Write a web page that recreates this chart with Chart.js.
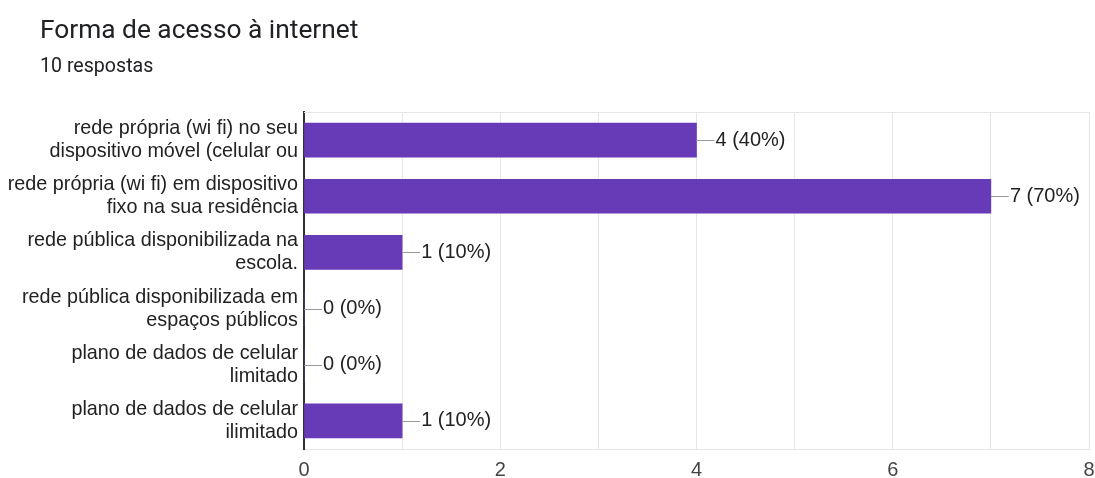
<!DOCTYPE html>
<html>
<head>
<meta charset="utf-8">
<script src="https://cdn.jsdelivr.net/npm/chart.js@4/dist/chart.umd.min.js"></script>
<style>
  html, body { margin: 0; padding: 0; background: #fff; }
  #wrap { position: relative; width: 1095px; height: 478px; overflow: hidden; }
  #title { position: absolute; left: 40px; top: 16px; font-family: Roboto, sans-serif; font-size: 26.3px; line-height: 26px; color: #202124; white-space: nowrap; }
  #subtitle { position: absolute; left: 40px; top: 56px; font-family: Roboto, sans-serif; font-size: 19.6px; line-height: 19.5px; color: #202124; white-space: nowrap; }
  canvas { position: absolute; left: 0; top: 0; }
</style>
</head>
<body>
<div id="wrap">
  <canvas id="c" width="1095" height="478"></canvas>
  <div id="title">Forma de acesso à internet</div>
  <div id="subtitle">10 respostas</div>
</div>
<script>
const categories = [
  ["rede própria (wi fi) no seu", "dispositivo móvel (celular ou"],
  ["rede própria (wi fi) em dispositivo", "fixo na sua residência"],
  ["rede pública disponibilizada na", "escola."],
  ["rede pública disponibilizada em", "espaços públicos"],
  ["plano de dados de celular", "limitado"],
  ["plano de dados de celular", "ilimitado"]
];
const counts = [4, 7, 1, 0, 0, 1];
const totalResponses = 10;
const xTickLabels = ["0", "2", "4", "6", "8"];

const labelFont = "'Liberation Sans', Arial, sans-serif";

const valueLabels = {
  id: 'valueLabels',
  afterDatasetsDraw(chart) {
    const ctx = chart.ctx;
    const meta = chart.getDatasetMeta(0);
    ctx.save();
    meta.data.forEach((bar, i) => {
      const x = bar.x, y = bar.y;
      ctx.strokeStyle = '#999999';
      ctx.lineWidth = 1;
      ctx.beginPath();
      ctx.moveTo(x, Math.round(y) + 0.5);
      ctx.lineTo(x + 18, Math.round(y) + 0.5);
      ctx.stroke();
      const v = counts[i];
      const pct = Math.round(v / totalResponses * 100);
      ctx.fillStyle = '#222222';
      ctx.font = '20px ' + labelFont;
      ctx.textAlign = 'left';
      ctx.textBaseline = 'middle';
      ctx.fillText(v + ' (' + pct + '%)', x + 19, y);
    });
    ctx.restore();
  }
};

const topLine = {
  id: 'topLine',
  beforeDatasetsDraw(chart) {
    const { ctx, chartArea } = chart;
    ctx.save();
    ctx.strokeStyle = '#e6e6e6';
    ctx.lineWidth = 1;
    ctx.beginPath();
    ctx.moveTo(chartArea.left, chartArea.top + 0.5);
    ctx.lineTo(chartArea.right, chartArea.top + 0.5);
    ctx.stroke();
    ctx.restore();
  }
};

new Chart(document.getElementById('c'), {
  type: 'bar',
  data: {
    labels: categories,
    datasets: [{
      data: counts,
      backgroundColor: '#673ab7',
      borderWidth: 0,
      barThickness: 34
    }]
  },
  options: {
    indexAxis: 'y',
    responsive: false,
    animation: false,
    devicePixelRatio: 1,
    layout: { padding: { top: 112, right: 6, bottom: 0, left: 0 } },
    plugins: { legend: { display: false }, tooltip: { enabled: false } },
    scales: {
      x: {
        min: 0, max: 8,
        ticks: {
          stepSize: 1,
          padding: 9,
          color: '#444444',
          maxRotation: 0,
          autoSkip: false,
          font: { family: labelFont, size: 20 },
          callback: (v) => (xTickLabels.includes(String(v)) ? String(v) : '')
        },
        grid: { color: '#e6e6e6', drawTicks: false },
        border: { color: '#e6e6e6' },
        afterFit: (s) => { s.height = 29; s.paddingLeft = 0; s.paddingRight = 0; }
      },
      y: {
        ticks: {
          padding: 6,
          color: '#222222',
          font: { family: labelFont, size: 19.8, lineHeight: 1.16 }
        },
        grid: { display: false, drawTicks: false },
        border: { color: '#333333', width: 2 },
        afterFit: (s) => { s.width = 304; s.paddingTop = 0; s.paddingBottom = 0; }
      }
    }
  },
  plugins: [valueLabels, topLine]
});
</script>
</body>
</html>
